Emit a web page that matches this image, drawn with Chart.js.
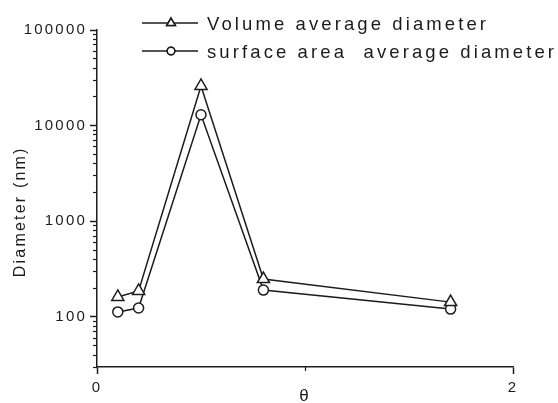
<!DOCTYPE html>
<html>
<head>
<meta charset="utf-8">
<script src="https://cdn.jsdelivr.net/npm/chart.js@4.4.1/dist/chart.umd.min.js"></script>
<style>
  html, body { margin: 0; padding: 0; background: #fff; }
  #wrap { width: 558px; height: 403px; }
</style>
</head>
<body>
<div id="wrap"><canvas id="chart" width="558" height="403"></canvas></div>
<script>
// values
const seriesNames = ['Volume average diameter', 'surface area  average diameter'];
const theta = [0.1, 0.2, 0.5, 0.8, 1.7];
const volumeDiameter = [162, 187, 26000, 249, 143];
const surfaceDiameter = [113, 124, 13000, 191, 121];
const xMajorTicks = [0, 2];
const xMinorTicks = [1];
const yMajorTicks = [100, 1000, 10000, 100000];
const yMin = 30;
const yMax = 100000;

const ink = '#1c1c1c';
const fontFamily = '"Liberation Sans", Arial, sans-serif';

// minor ticks 2..9 x 10^n inside the range
const yMinorTicks = [];
for (let p = 10; p < yMax; p *= 10) {
  for (let m = 2; m <= 9; m++) {
    const v = m * p;
    if (v >= yMin && v < yMax) yMinorTicks.push(v);
  }
}

const setTicks = list => scale => { scale.ticks = list.map(v => ({ value: v })); };

const spacingPlugin = {
  id: 'spacing',
  beforeDraw(chart) { chart.ctx.letterSpacing = '2.2px'; },
  afterDraw(chart) {
    const ctx = chart.ctx;
    ctx.save();
    ctx.letterSpacing = '3.1px';
    ctx.font = '18.5px ' + fontFamily;
    ctx.fillStyle = ink;
    ctx.strokeStyle = ink;
    ctx.textBaseline = 'alphabetic';
    const rows = [
      { y: 23, style: 'triangle', r: 5 },
      { y: 51, style: 'circle', r: 3.8 }
    ];
    rows.forEach((row, i) => {
      ctx.lineWidth = 1.5;
      ctx.beginPath();
      ctx.moveTo(142, row.y);
      ctx.lineTo(198, row.y);
      ctx.stroke();
      ctx.fillStyle = '#fff';
      Chart.helpers.drawPoint(ctx, { pointStyle: row.style, radius: row.r, borderWidth: 1.5 }, 171, row.y);
      ctx.fill();
      ctx.stroke();
      ctx.fillStyle = ink;
      ctx.fillText(seriesNames[i], 207, row.y + 7);
    });
    ctx.restore();
  }
};

new Chart(document.getElementById('chart'), {
  type: 'line',
  data: {
    datasets: [
      {
        label: seriesNames[0],
        data: theta.map((x, i) => ({ x, y: volumeDiameter[i] })),
        borderColor: ink,
        borderWidth: 1.5,
        pointStyle: 'triangle',
        pointRadius: 7,
        pointBorderWidth: 1.5,
        pointBackgroundColor: '#fff',
        pointBorderColor: ink,
        tension: 0
      },
      {
        label: seriesNames[1],
        data: theta.map((x, i) => ({ x, y: surfaceDiameter[i] })),
        borderColor: ink,
        borderWidth: 1.5,
        pointStyle: 'circle',
        pointRadius: 5,
        pointBorderWidth: 1.5,
        pointBackgroundColor: '#fff',
        pointBorderColor: ink,
        tension: 0
      }
    ]
  },
  options: {
    responsive: false,
    animation: false,
    devicePixelRatio: 1,
    layout: { padding: { top: 30, right: 45, left: 0, bottom: 0 } },
    plugins: { legend: { display: false }, tooltip: { enabled: false } },
    scales: {
      x: {
        type: 'linear',
        min: 0,
        max: 2,
        weight: 1,
        afterBuildTicks: setTicks(xMajorTicks),
        afterFit: scale => { scale.height = 36; },
        border: { display: true, color: ink, width: 1.5 },
        grid: { drawOnChartArea: false, drawTicks: true, tickLength: 7, color: ink, tickWidth: 1.5 },
        ticks: { color: ink, font: { family: fontFamily, size: 15 }, padding: 5, maxRotation: 0 },
        title: { display: true, text: 'θ', color: ink, font: { family: fontFamily, size: 17 }, padding: { top: 0, bottom: -4 } }
      },
      xMinor: {
        type: 'linear',
        position: 'bottom',
        min: 0,
        max: 2,
        weight: 0,
        afterBuildTicks: setTicks(xMinorTicks),
        afterFit: scale => { scale.height = 0; },
        border: { display: false },
        grid: { drawOnChartArea: false, drawTicks: true, tickLength: 4, color: ink, tickWidth: 1.2 },
        ticks: { display: false }
      },
      y: {
        type: 'logarithmic',
        min: yMin,
        max: yMax,
        weight: 1,
        afterBuildTicks: setTicks(yMajorTicks),
        afterFit: scale => { scale.width = 97; },
        border: { display: true, color: ink, width: 1.5 },
        grid: { drawOnChartArea: false, drawTicks: true, tickLength: 7, color: ink, tickWidth: 1.5 },
        ticks: {
          color: ink,
          font: { family: fontFamily, size: 15 },
          padding: 3,
          callback: v => String(v)
        },
        title: { display: true, text: 'Diameter (nm)    ', color: ink, font: { family: fontFamily, size: 16 }, padding: { top: 11, bottom: 0 } }
      },
      yMinor: {
        type: 'logarithmic',
        position: 'left',
        min: yMin,
        max: yMax,
        weight: 0,
        afterBuildTicks: setTicks(yMinorTicks),
        afterFit: scale => { scale.width = 0; },
        border: { display: false },
        grid: { drawOnChartArea: false, drawTicks: true, tickLength: 4, color: ink, tickWidth: 1.2 },
        ticks: { display: false }
      }
    }
  },
  plugins: [spacingPlugin]
});
</script>
</body>
</html>
